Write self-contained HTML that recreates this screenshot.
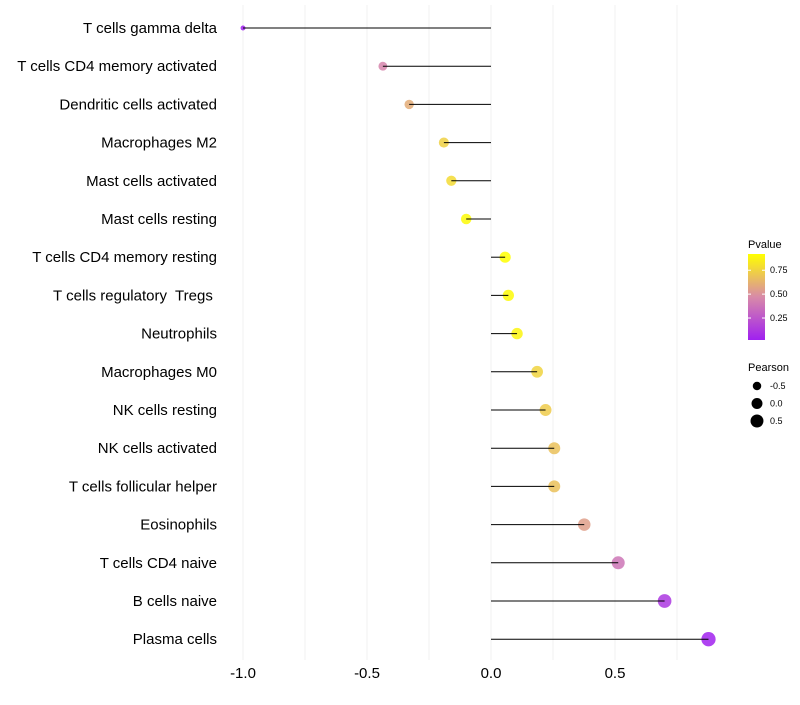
<!DOCTYPE html>
<html><head><meta charset="utf-8"><style>
body{margin:0;background:#fff;font-family:"Liberation Sans",sans-serif}
</style></head><body>
<svg id="chart" width="800" height="700" xmlns="http://www.w3.org/2000/svg" font-family="Liberation Sans, sans-serif"></svg>
<script>
const categories=["T cells gamma delta","T cells CD4 memory activated","Dendritic cells activated","Macrophages M2","Mast cells activated","Mast cells resting","T cells CD4 memory resting","T cells regulatory  Tregs ","Neutrophils","Macrophages M0","NK cells resting","NK cells activated","T cells follicular helper","Eosinophils","T cells CD4 naive","B cells naive","Plasma cells"];
const pearson=[-1.0,-0.436,-0.33,-0.19,-0.16,-0.10,0.057,0.07,0.105,0.186,0.22,0.255,0.255,0.376,0.513,0.70,0.877];
const pvalues=[0.02,0.45,0.6,0.74,0.78,0.9,0.92,0.9,0.88,0.75,0.72,0.68,0.68,0.55,0.38,0.12,0.03];
const xTicks=[-1.0,-0.5,0.0,0.5];
const xTickLabels=["-1.0","-0.5","0.0","0.5"];
const xGrid=[-1.0,-0.75,-0.5,-0.25,0,0.25,0.5,0.75];
const legendP=[0.25,0.5,0.75];
const legendPLabels=["0.25","0.50","0.75"];
const legendSizes=[-0.5,0,0.5];
const legendSizeLabels=["-0.5","0.0","0.5"];

const NS="http://www.w3.org/2000/svg";
const svg=document.getElementById('chart');
function mk(t,a,p){const e=document.createElementNS(NS,t);for(const k in a)e.setAttribute(k,a[k]);(p||svg).appendChild(e);return e;}
const xs=v=>491+v*248;
const ys=i=>28+i*38.2;
const rs=v=>Math.sqrt(Math.max(2,30+24*v));
function lerp(a,b,t){return a.map((c,i)=>Math.round(c+(b[i]-c)*t));}
function col(p){const t=Math.min(1,Math.max(0,(p-0.02)/(0.92-0.02)));
 const A=[160,32,240],B=[216,138,168],C=[255,255,0];
 const c=t<0.5?lerp(A,B,t/0.5):lerp(B,C,(t-0.5)/0.5);return `rgb(${c})`;}

xGrid.forEach(v=>{const g=mk('line',{x1:xs(v),x2:xs(v),y1:5,y2:660,stroke:'#f0f0f0','stroke-width':1});
});
xTicks.forEach((v,i)=>{const t=mk('text',{x:xs(v),y:678,'text-anchor':'middle','font-size':15,fill:'#000'});t.textContent=xTickLabels[i];
});
categories.forEach((c,i)=>{
 const y=ys(i);
 const l=mk('text',{x:217,y:y+5,'text-anchor':'end','font-size':15,fill:'#000'});l.setAttribute('style','white-space:pre');l.textContent=c;
 
 const pt=mk('circle',{cx:xs(pearson[i]),cy:y,r:rs(pearson[i]),fill:col(pvalues[i]),'fill-opacity':0.85});
 
 const st=mk('line',{x1:xs(0),x2:xs(pearson[i]),y1:y,y2:y,stroke:'#000','stroke-width':1});
 
});
const lt=mk('text',{x:748,y:248,'font-size':11});lt.textContent='Pvalue';

const defs=mk('defs',{});const gr=mk('linearGradient',{id:'pg',x1:0,y1:1,x2:0,y2:0},defs);
[0,0.25,0.5,0.75,1].forEach(f=>mk('stop',{offset:f,'stop-color':col(0.02+f*0.9)},gr));
const bar=mk('rect',{x:748,y:254,width:17,height:86,fill:'url(#pg)'});

const pY=p=>340-(p-0.02)/0.9*86;
legendP.forEach((p,i)=>{mk('line',{x1:748,x2:751,y1:pY(p),y2:pY(p),stroke:'#fff'});mk('line',{x1:762,x2:765,y1:pY(p),y2:pY(p),stroke:'#fff'});
 const t=mk('text',{x:770,y:pY(p)+3,'font-size':9});t.textContent=legendPLabels[i];
 });
const st2=mk('text',{x:748,y:371,'font-size':11});st2.textContent='Pearson';

legendSizes.forEach((s,i)=>{const y=386+i*17.5;
 const c=mk('circle',{cx:757,cy:y,r:rs(s),fill:'#000'});
 
 const t=mk('text',{x:770,y:y+3,'font-size':9});t.textContent=legendSizeLabels[i];
 });
</script>
</body></html>
